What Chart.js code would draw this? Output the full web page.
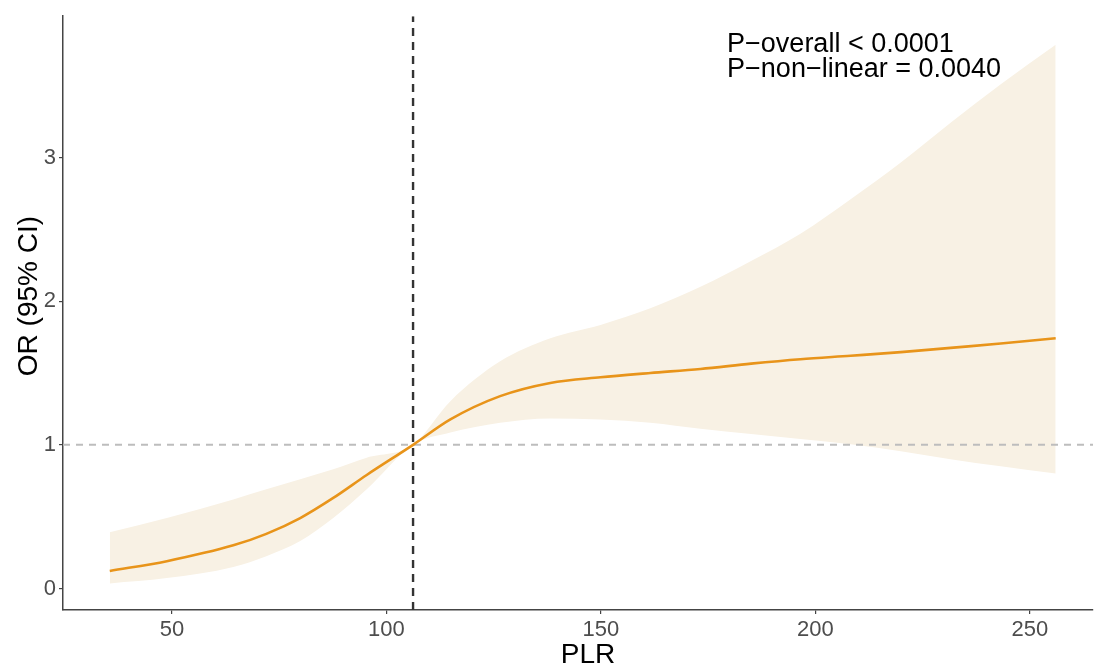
<!DOCTYPE html>
<html>
<head>
<meta charset="utf-8">
<script src="https://cdn.jsdelivr.net/npm/chart.js@4/dist/chart.umd.min.js"></script>
<style>
  body { margin: 0; background: #fff; }
  #wrap { width: 1095px; height: 665px; position: relative; }
</style>
</head>
<body>
<div id="wrap"><canvas id="rcs"></canvas></div>
<script>
var plr     = [35.5, 48.8, 64.3, 72, 79.9, 87.6, 95.4, 106.2, 114.9, 126.5, 138.2, 149.9, 161.5, 173.2, 185, 196.5, 208.2, 219.9, 231.5, 243.2, 256];
var orEst   = [0.122, 0.19, 0.30, 0.38, 0.49, 0.63, 0.79, 1.0, 1.177, 1.339, 1.431, 1.470, 1.500, 1.528, 1.565, 1.596, 1.620, 1.645, 1.675, 1.705, 1.742];
var ciUpper = [0.392, 0.49, 0.62, 0.69, 0.76, 0.83, 0.91, 1.0, 1.304, 1.581, 1.742, 1.835, 1.950, 2.10, 2.28, 2.47, 2.71, 2.966, 3.243, 3.51, 3.785];
var ciLower = [0.035, 0.072, 0.15, 0.225, 0.33, 0.49, 0.69, 1.0, 1.085, 1.154, 1.184, 1.177, 1.154, 1.112, 1.075, 1.040, 1.004, 0.955, 0.900, 0.850, 0.800];

var xTicks = [50, 100, 150, 200, 250];
var yTicks = [0, 1, 2, 3];
var xRange = [24.6, 264.7];
var yRange = [-0.150, 3.984];
var refPLR = 106.2;
var refOR = 1;
var xTitle = 'PLR';
var yTitle = 'OR (95% CI)';
var notes = ['P\u2212overall < 0.0001', 'P\u2212non\u2212linear = 0.0040'];

function pts(ys) {
    return plr.map(function(x, i) { return {x: x, y: ys[i]}; });
}

var font = "'Liberation Sans', Arial, sans-serif";

// p-value text and axis titles, placed like the ggplot output
var textPlugin = {
    id: 'texts',
    afterDraw: function(chart) {
        var ctx = chart.ctx;
        var xs = chart.scales.x;
        var ys = chart.scales.y;
        var area = chart.chartArea;
        ctx.save();
        ctx.fillStyle = '#000';
        ctx.textBaseline = 'alphabetic';

        ctx.font = '27px ' + font;
        ctx.textAlign = 'left';
        var left = xs.getPixelForValue(179.4);
        var top = ys.getPixelForValue(3.735);
        notes.forEach(function(t, i) {
            ctx.fillText(t, left, top + i * 25);
        });

        ctx.font = '28px ' + font;
        ctx.textAlign = 'center';
        ctx.fillText(xTitle, (area.left + area.right) / 2 + 10, 663);

        ctx.translate(37, (area.top + area.bottom) / 2 - 17);
        ctx.rotate(-Math.PI / 2);
        ctx.fillText(yTitle, 0, 0);
        ctx.restore();
    }
};

var tickStyle = { color: '#4d4d4d', font: { family: font, size: 22 } };

new Chart(document.getElementById('rcs'), {
    type: 'line',
    data: {
        datasets: [
            {
                data: pts(orEst),
                borderColor: '#E8941A',
                borderWidth: 2.6,
                pointRadius: 0,
                cubicInterpolationMode: 'monotone',
                fill: false,
                order: 0
            },
            {
                data: [{x: refPLR, y: yRange[0]}, {x: refPLR, y: yRange[1]}],
                borderColor: '#333333',
                borderWidth: 2.4,
                borderDash: [8, 6],
                pointRadius: 0,
                fill: false,
                order: 1
            },
            {
                data: [{x: xRange[0], y: refOR}, {x: xRange[1], y: refOR}],
                borderColor: '#bdbdbd',
                borderWidth: 2,
                borderDash: [7, 6],
                pointRadius: 0,
                fill: false,
                order: 2
            },
            {
                data: pts(ciUpper),
                borderWidth: 0,
                borderColor: 'rgba(0,0,0,0)',
                backgroundColor: 'rgb(248, 241, 228)',
                pointRadius: 0,
                cubicInterpolationMode: 'monotone',
                fill: '+1',
                order: 5
            },
            {
                data: pts(ciLower),
                borderWidth: 0,
                borderColor: 'rgba(0,0,0,0)',
                pointRadius: 0,
                cubicInterpolationMode: 'monotone',
                fill: false,
                order: 6
            }
        ]
    },
    options: {
        responsive: true,
        maintainAspectRatio: false,
        animation: false,
        events: [],
        layout: { padding: { left: 0, top: 13, right: 2, bottom: 0 } },
        plugins: { legend: { display: false }, tooltip: { enabled: false } },
        scales: {
            x: {
                type: 'linear',
                min: xRange[0],
                max: xRange[1],
                afterBuildTicks: function(s) { s.ticks = xTicks.map(function(v) { return {value: v}; }); },
                afterFit: function(s) { s.height = 55; },
                grid: { drawOnChartArea: false, tickLength: 4, color: '#444', lineWidth: 1.2 },
                border: { display: true, color: '#444', width: 1.5 },
                ticks: Object.assign({ padding: 3, maxRotation: 0 }, tickStyle)
            },
            y: {
                type: 'linear',
                min: yRange[0],
                max: yRange[1],
                afterBuildTicks: function(s) { s.ticks = yTicks.map(function(v) { return {value: v}; }); },
                afterFit: function(s) { s.width = 63; },
                grid: { drawOnChartArea: false, tickLength: 4, color: '#444', lineWidth: 1.2 },
                border: { display: true, color: '#444', width: 1.5 },
                ticks: Object.assign({ padding: 3 }, tickStyle)
            }
        }
    },
    plugins: [textPlugin]
});
</script>
</body>
</html>
